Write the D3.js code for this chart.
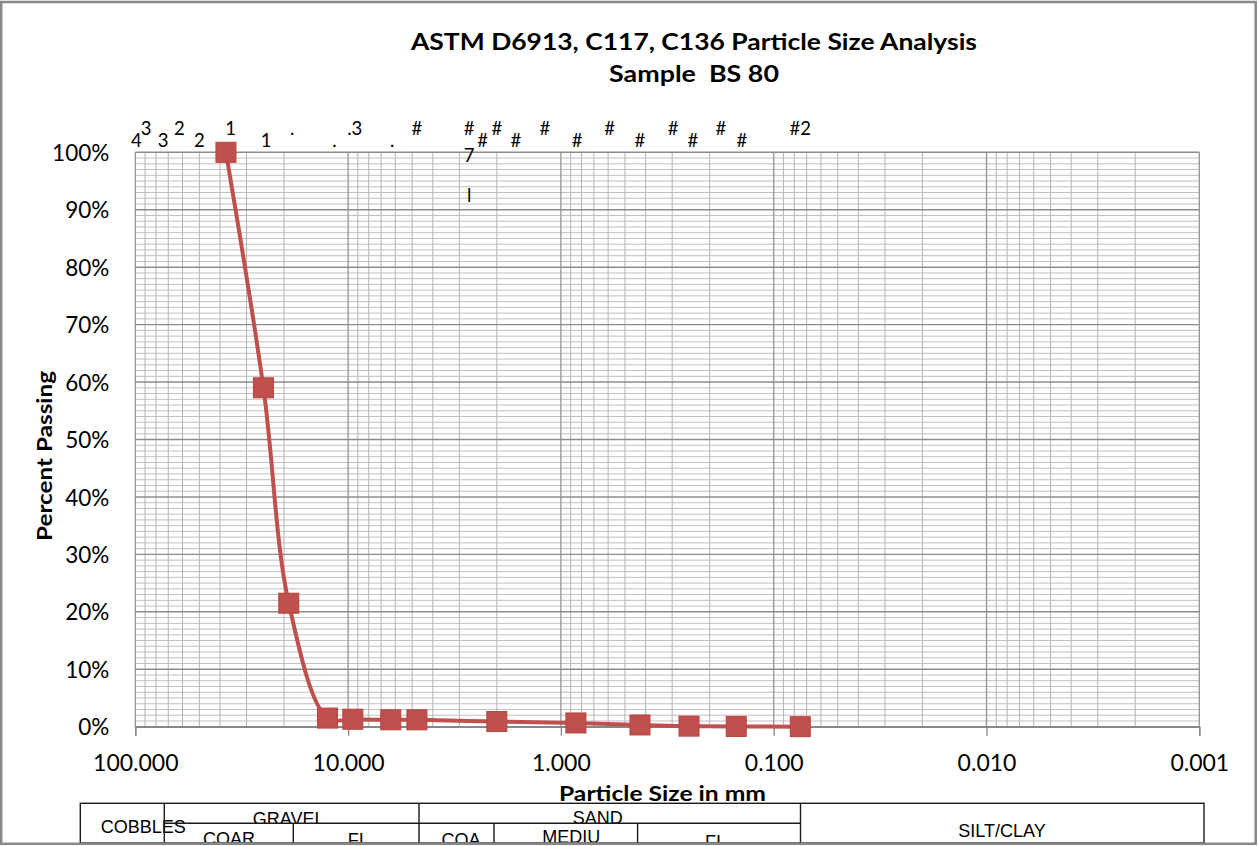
<!DOCTYPE html>
<html><head><meta charset="utf-8">
<script src="https://cdn.jsdelivr.net/npm/d3@7"></script>
<style>
html,body{margin:0;padding:0;background:#fff;}
svg{display:block;}
</style></head>
<body>
<svg id="chart" width="1259" height="846"></svg>
<script>
// ---------- data ----------
const titleLines = ["ASTM D6913, C117, C136 Particle Size Analysis", "Sample  BS 80"];
const xTitle = "Particle Size in mm";
const yTitle = "Percent Passing";
// sieve opening (mm) and percent passing
const sizes   = [37.5, 25, 19, 12.5, 9.5, 6.3, 4.75, 2.0, 0.85, 0.425, 0.25, 0.15, 0.075];
const passing = [100, 59.0, 21.5, 1.5, 1.3, 1.2, 1.2, 0.9, 0.65, 0.3, 0.1, 0.05, 0.0];
// sieve labels along the top (truncated as in the original)
const sieveText  = ["4","3","3","2","2","1","1",".",".",".3",".","#","","#\n\n7\n\n\nl","#","#","#","#","#","#","#","#","#","#","#","#2"];
const sieveSizes = [98.9, 88.9, 74, 62, 50, 35.7, 24.3, 18.3, 11.6, 9.3, 6.2, 4.75, 3.35, 2.7, 2.33, 2.0, 1.63, 1.19, 0.84, 0.59, 0.425, 0.297, 0.24, 0.177, 0.141, 0.075];
const xDomain = [100, 0.001];
const yDomain = [0, 100];
// classification table
const tableTop = ["COBBLES", "GRAVEL", "SAND", "SILT/CLAY"];
const tableSub = ["COAR", "FI", "COA", "MEDIU", "FI"];

// ---------- layout ----------
const W = 1259, H = 846;
const plot = {left: 135.3, right: 1199.3, top: 152.3, bottom: 726.7};
const red = "#C0504D";
const fontC = "Lato, 'Open Sans', sans-serif";
const fontA = "'Liberation Sans', Arial, sans-serif";

const svg = d3.select("#chart");
svg.append("rect").attr("x",0).attr("y",0).attr("width",W).attr("height",H).attr("fill","#fff");

const x = d3.scaleLog().domain(xDomain).range([plot.left, plot.right]);
const y = d3.scaleLinear().domain(yDomain).range([plot.bottom, plot.top]);

// ---------- grid ----------
const grid = svg.append("g");
const yMinor = y.ticks(100);
grid.selectAll("line.ym").data(yMinor.filter(d => d % 10 !== 0)).join("line")
  .attr("x1", plot.left).attr("x2", plot.right)
  .attr("y1", d => y(d)).attr("y2", d => y(d))
  .attr("stroke", "#C0C0C0").attr("stroke-width", 1);
const xAll = x.ticks();
const isDecade = d => Math.abs(Math.log10(d) - Math.round(Math.log10(d))) < 1e-9;
grid.selectAll("line.xm").data(xAll).join("line")
  .attr("x1", d => x(d)).attr("x2", d => x(d))
  .attr("y1", plot.top).attr("y2", plot.bottom)
  .attr("stroke", d => isDecade(d) ? "#949494" : "#B4B4B4")
  .attr("stroke-width", d => isDecade(d) ? 1.3 : 1);
grid.selectAll("line.yM").data(y.ticks(10)).join("line")
  .attr("x1", plot.left).attr("x2", plot.right)
  .attr("y1", d => y(d)).attr("y2", d => y(d))
  .attr("stroke", "#8C8C8C").attr("stroke-width", 1.4);

// ---------- axes ----------
const decades = xAll.filter(isDecade);
const xAxis = d3.axisBottom(x).tickValues(decades).tickFormat(d3.format(".3f")).tickSize(9).tickPadding(18.5);
const gx = svg.append("g").attr("transform", `translate(0,${plot.bottom})`).call(xAxis);
gx.select(".domain").attr("stroke", "#868686").attr("stroke-width", 1.4);
gx.selectAll(".tick line").attr("stroke", "#868686").attr("stroke-width", 1.3);
gx.selectAll(".tick text").attr("font-family", fontC).attr("font-size", 23).attr("fill", "#000").attr("dy", "0.72em");

const yAxis = d3.axisLeft(y).ticks(10).tickFormat(d => d + "%").tickSize(0).tickPadding(26);
const gy = svg.append("g").attr("transform", `translate(${plot.left},0)`).call(yAxis);
gy.select(".domain").remove();
gy.selectAll(".tick text").attr("font-family", fontC).attr("font-size", 22.5).attr("fill", "#000").attr("dy", "0.36em");

// ---------- series ----------
const pts = sizes.map((s, i) => [x(s), y(passing[i])]);
svg.append("path").attr("d", d3.line().curve(d3.curveCatmullRom.alpha(0.5))(pts))
  .attr("fill", "none").attr("stroke", red).attr("stroke-width", 4);
const ms = 20;
svg.selectAll("rect.mk").data(sizes).join("rect")
  .attr("x", (d) => x(d) - ms/2).attr("y", (d, i) => y(passing[i]) - ms/2)
  .attr("width", ms).attr("height", ms)
  .attr("fill", red).attr("stroke", "#B8433F").attr("stroke-width", 1);

// ---------- sieve labels ----------
const sl = svg.append("g").attr("font-family", fontC).attr("font-size", 18.5).attr("fill", "#000").attr("text-anchor", "middle");
sieveText.forEach((t, i) => {
  const base = (i % 2 === 0) ? 147.3 : 135;
  t.split("\n").forEach((line, j) => {
    if (line === "") return;
    sl.append("text").attr("x", x(sieveSizes[i])).attr("y", base + j * 13.3).text(line);
  });
});

// ---------- titles ----------
svg.append("text").attr("x", 694).attr("y", 49.5).attr("text-anchor", "middle")
  .attr("textLength", 566).attr("lengthAdjust", "spacingAndGlyphs")
  .attr("font-family", fontC).attr("font-weight", "bold").attr("font-size", 22.5).text(titleLines[0]);
svg.append("text").attr("x", 694).attr("y", 81.5).attr("text-anchor", "middle").attr("xml:space", "preserve")
  .style("white-space", "pre").attr("textLength", 170).attr("lengthAdjust", "spacingAndGlyphs")
  .attr("font-family", fontC).attr("font-weight", "bold").attr("font-size", 22.5).text(titleLines[1]);
svg.append("text").attr("x", 662.5).attr("y", 800.7).attr("text-anchor", "middle")
  .attr("textLength", 207).attr("lengthAdjust", "spacingAndGlyphs")
  .attr("font-family", fontC).attr("font-weight", "bold").attr("font-size", 20).text(xTitle);
svg.append("text").attr("transform", "translate(52,456) rotate(-90)").attr("text-anchor", "middle")
  .attr("textLength", 170).attr("lengthAdjust", "spacingAndGlyphs")
  .attr("font-family", fontC).attr("font-weight", "bold").attr("font-size", 21).text(yTitle);

// ---------- classification table ----------
const T = {top: 803.3, mid: 823.3, bottom: 843};
const colX = [80.3, 164.3, 419, 800.5, 1204];
const subX = [164.3, 293.3, 419, 494, 637.6, 800.5];
const tb = svg.append("g");
const defs = svg.append("defs");
defs.append("clipPath").attr("id", "clipTopRow").append("rect")
  .attr("x", 0).attr("y", T.top).attr("width", W).attr("height", T.mid - T.top);
defs.append("clipPath").attr("id", "clipBottom").append("rect")
  .attr("x", 0).attr("y", 0).attr("width", W).attr("height", 842);
const tt = tb.append("g").attr("font-family", fontA).attr("font-size", 18).attr("fill", "#000").attr("text-anchor", "middle");
tt.append("text").attr("x", 143.3).attr("y", 833.3).text(tableTop[0]);
tt.append("text").attr("x", 288.7).attr("y", 825).attr("clip-path", "url(#clipTopRow)").text(tableTop[1]);
tt.append("text").attr("x", 597.7).attr("y", 824.3).attr("clip-path", "url(#clipTopRow)").text(tableTop[2]);
tt.append("text").attr("x", 1002).attr("y", 837.3).text(tableTop[3]);
const subCx = [229, 355.7, 461, 571.3, 713];
const subBase = [844.6, 846.3, 846.3, 843.2, 848];
tableSub.forEach((t, i) => {
  tt.append("text").attr("x", subCx[i]).attr("y", subBase[i]).attr("clip-path", "url(#clipBottom)").text(t);
});
const ls = {stroke: "#1a1a1a", w: 1.4};
tb.append("rect").attr("x", colX[0]).attr("y", T.top).attr("width", colX[4] - colX[0]).attr("height", T.bottom - T.top)
  .attr("fill", "none").attr("stroke", ls.stroke).attr("stroke-width", ls.w);
[colX[1], colX[2], colX[3]].forEach(cx => tb.append("line").attr("x1", cx).attr("x2", cx).attr("y1", T.top).attr("y2", T.bottom)
  .attr("stroke", ls.stroke).attr("stroke-width", ls.w));
tb.append("line").attr("x1", colX[1]).attr("x2", colX[3]).attr("y1", T.mid).attr("y2", T.mid)
  .attr("stroke", ls.stroke).attr("stroke-width", ls.w);
[subX[1], subX[3], subX[4]].forEach(cx => tb.append("line").attr("x1", cx).attr("x2", cx).attr("y1", T.mid).attr("y2", T.bottom)
  .attr("stroke", ls.stroke).attr("stroke-width", ls.w));

// ---------- outer frame ----------
svg.append("rect").attr("x", 1.2).attr("y", 2).attr("width", 1254.5).attr("height", 841.8)
  .attr("fill", "none").attr("stroke", "#888").attr("stroke-width", 2.5);
</script>
</body></html>
